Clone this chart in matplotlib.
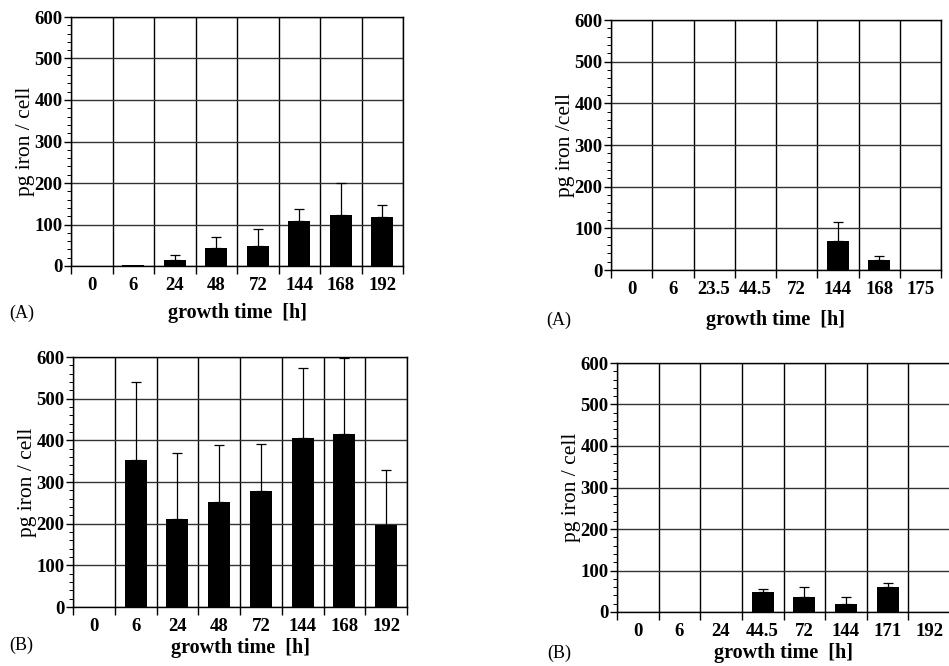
import numpy as np
import matplotlib.pyplot as plt
from matplotlib.ticker import MultipleLocator, FixedLocator

plt.rcParams['font.family'] = ['Liberation Serif', 'DejaVu Serif']

# panel A (left)
times_al = ['0', '6', '24', '48', '72', '144', '168', '192']
iron_al = [0, 2, 14, 44, 47, 109, 122, 117]
top_al = [0, 2, 27, 71, 89, 137, 201, 146]

# panel A (right)
times_ar = ['0', '6', '23.5', '44.5', '72', '144', '168', '175']
iron_ar = [0, 0, 0, 0, 0, 70, 24, 0]
top_ar = [0, 0, 0, 0, 0, 115, 34, 0]

# panel B (left)
times_bl = ['0', '6', '24', '48', '72', '144', '168', '192']
iron_bl = [0, 354, 211, 253, 278, 406, 416, 197]
top_bl = [0, 541, 369, 390, 391, 573, 598, 330]

# panel B (right)
times_br = ['0', '6', '24', '44.5', '72', '144', '171', '192']
iron_br = [0, 0, 0, 47, 36, 20, 61, 0]
top_br = [0, 0, 0, 56, 61, 36, 71, 0]

W, H = 949, 666
fig = plt.figure(figsize=(W / 100, H / 100), dpi=100)


def panel(box, times, vals, tops, ylab, tag, tag_xy, xlab_y):
    l, t, r, b = box
    ax = fig.add_axes([l / W, 1 - b / H, (r - l) / W, (b - t) / H])
    x = np.arange(len(times))
    vals = np.array(vals, dtype=float)
    tops = np.array(tops, dtype=float)
    ax.bar(x, vals, width=0.53, color='black', zorder=3)
    has = tops > vals
    ax.errorbar(x[has], vals[has], yerr=[np.zeros(has.sum()), (tops - vals)[has]],
                fmt='none', ecolor='black', elinewidth=0.9, capsize=3.6,
                capthick=0.9, zorder=2)
    ax.set_xlim(-0.5, len(times) - 0.5)
    ax.set_ylim(0, 600)
    ax.set_xticks(x)
    ax.set_xticklabels(times, fontweight='bold', fontsize=13.5)
    ax.xaxis.set_minor_locator(FixedLocator(np.arange(len(times) + 1) - 0.5))
    ax.tick_params(axis='x', which='major', length=0, pad=8)
    ax.tick_params(axis='x', which='minor', length=6, width=1, direction='out')
    ax.yaxis.set_major_locator(MultipleLocator(100))
    ax.yaxis.set_minor_locator(MultipleLocator(20))
    ax.tick_params(axis='y', which='major', length=5, width=1, direction='out',
                   labelsize=13.5, pad=1)
    ax.tick_params(axis='y', which='minor', length=3, width=0.7, direction='out')
    for lb in ax.get_yticklabels():
        lb.set_fontweight('bold')
    ax.grid(True, which='minor', axis='x', color='black', linewidth=1, zorder=1)
    ax.grid(True, which='major', axis='y', color='#333333', linewidth=1, zorder=1)
    for s in ax.spines.values():
        s.set_linewidth(1)
    ax.set_ylabel(ylab, fontsize=15.5, labelpad=0)
    fig.text((l + r) / 2 / W, 1 - xlab_y / H, 'growth time  [h]',
             fontsize=14.5, fontweight='bold', ha='center', va='center')
    fig.text(tag_xy[0] / W, 1 - tag_xy[1] / H, tag, fontsize=13,
             ha='left', va='center')
    return ax


panel((71, 17, 403, 266), times_al, iron_al, top_al, 'pg iron / cell',
      '(A)', (9, 313), 313)
panel((611, 20, 941, 270), times_ar, iron_ar, top_ar, 'pg iron /cell',
      '(A)', (546, 320), 320)
panel((73, 357, 407, 607), times_bl, iron_bl, top_bl, 'pg iron / cell',
      '(B)', (9, 645), 648)
panel((617, 363, 950, 612), times_br, iron_br, top_br, 'pg iron / cell',
      '(B)', (547, 653), 653)

plt.savefig('out.png', dpi=100)
